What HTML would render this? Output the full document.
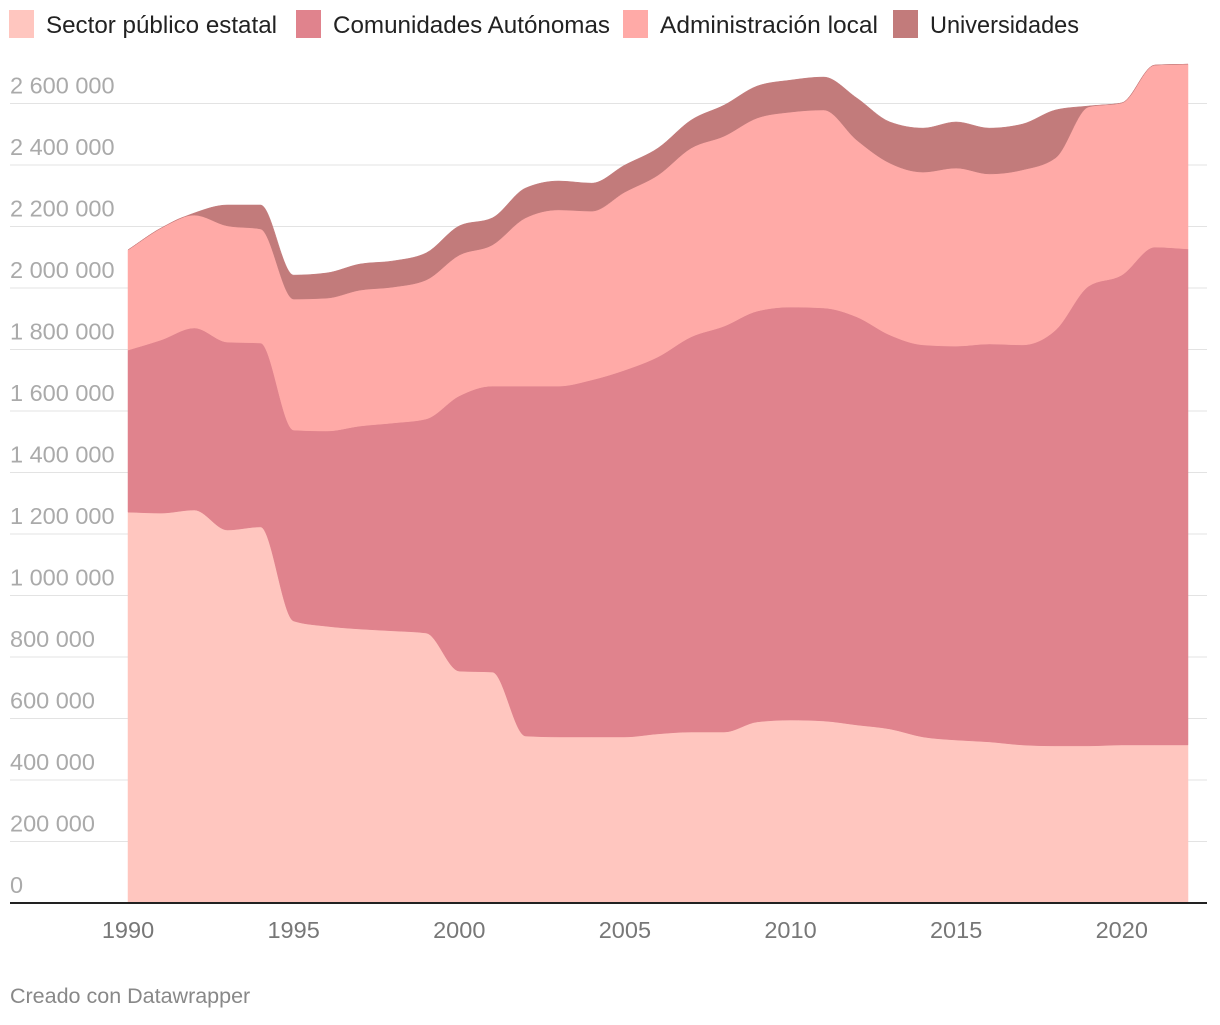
<!DOCTYPE html>
<html><head><meta charset="utf-8"><style>
body{margin:0;background:#fff;width:1220px;height:1020px;overflow:hidden;font-family:"Liberation Sans",sans-serif}
svg text{font-family:"Liberation Sans",sans-serif}
</style></head><body>
<svg id="chart" width="1220" height="1020" xmlns="http://www.w3.org/2000/svg"></svg>
<script>
const years=[1990,1991,1992,1993,1994,1995,1996,1997,1998,1999,2000,2001,2002,2003,2004,2005,2006,2007,2008,2009,2010,2011,2012,2013,2014,2015,2016,2017,2018,2019,2020,2021,2022];
const estatal=[1271,1268,1278,1213,1223,917,900,891,885,878,754,751,543,540,540,540,550,556,556,589,595,592,579,566,540,530,524,514,511,511,514,514,514];
const ccaa=[527,563,592,611,598,621,635,660,676,696,895,930,1138,1141,1161,1193,1226,1285,1320,1336,1343,1343,1327,1281,1275,1281,1294,1301,1352,1495,1528,1619,1613];
const local=[326,364,367,378,371,426,432,442,442,452,458,459,547,573,549,579,591,614,618,628,634,644,575,559,562,579,553,569,560,583,560,592,601];
const univ=[0,0,7,68,78,78,82,85,85,88,95,88,97,94,91,88,88,91,101,104,104,107,137,134,143,150,149,149,156,3,0,0,0];
const seriesNames=["Sector público estatal","Comunidades Autónomas","Administración local","Universidades"];
const colors=["#ffc6bf","#e0838d","#ffaaa7","#c27b7b"];
const yTicks=[0,200000,400000,600000,800000,1000000,1200000,1400000,1600000,1800000,2000000,2200000,2400000,2600000];
const xTicks=[1990,1995,2000,2005,2010,2015,2020];
const NS="http://www.w3.org/2000/svg";
const svg=document.getElementById('chart');
const X=y=>128+(y-1990)*(1060/32);
const Y=v=>903-v/200000*61.5;
function mk(tag,attrs,parent){const e=document.createElementNS(NS,tag);for(const k in attrs)e.setAttribute(k,attrs[k]);(parent||svg).appendChild(e);return e;}
function fmt(n){return n.toString().replace(/\B(?=(\d{3})+(?!\d))/g,' ');}
yTicks.forEach(t=>{
 if(t>0){const g=mk('line',{x1:10,x2:1207,y1:Y(t),y2:Y(t),stroke:'#e3e3e3','stroke-width':1});
 
 }
 const tx=mk('text',{x:10,y:Y(t)-10,fill:'#aaa','font-size':23.5});
 
 
 tx.textContent=fmt(t);
});
function mono(pts){
 const n=pts.length;const d=[],m=[];
 for(let i=0;i<n-1;i++){d.push((pts[i+1][1]-pts[i][1])/(pts[i+1][0]-pts[i][0]));}
 for(let i=0;i<n;i++){
  if(i==0)m.push(d[0]);else if(i==n-1)m.push(d[n-2]);
  else{ if(d[i-1]*d[i]<=0)m.push(0);else{const h0=pts[i][0]-pts[i-1][0],h1=pts[i+1][0]-pts[i][0];const p=(d[i-1]*h1+d[i]*h0)/(h0+h1);m.push(Math.sign(d[i])*Math.min(Math.abs(p),2*Math.abs(d[i-1]),2*Math.abs(d[i])));}}
 }
 let s='';
 for(let i=0;i<n-1;i++){const h=(pts[i+1][0]-pts[i][0])/3;
  s+=` C${pts[i][0]+h},${pts[i][1]+m[i]*h} ${pts[i+1][0]-h},${pts[i+1][1]-m[i+1]*h} ${pts[i+1][0]},${pts[i+1][1]}`;}
 return s;
}
const data=[estatal,ccaa,local,univ];
let base=years.map(()=>0);
data.forEach((ser,si)=>{
 const top=base.map((b,i)=>b+ser[i]*1000);
 const tp=years.map((y,i)=>[X(y),Y(top[i])]);
 const bp=years.map((y,i)=>[X(y),Y(base[i])]).reverse();
 const dStr=`M${tp[0][0]},${tp[0][1]}`+mono(tp)+` L${bp[0][0]},${bp[0][1]}`+mono(bp)+'Z';
 const p=mk('path',{d:dStr,fill:colors[si],stroke:colors[si],'stroke-width':0.5});
 
 
 base=top;
});
const ax=mk('line',{x1:10,x2:1207,y1:903,y2:903,stroke:'#222','stroke-width':2});


xTicks.forEach(t=>{
 const tx=mk('text',{x:X(t),y:938,fill:'#777','font-size':23.5,'text-anchor':'middle'});
 
 
 tx.textContent=t;
});
const legendX=[9,296,623,893];
const legendW=[231,277,218,149];
seriesNames.forEach((nm,i)=>{
 const lx=legendX[i];
 const r=mk('rect',{x:lx,y:10,width:25,height:28,fill:colors[i]});
 
 
 const t=mk('text',{x:lx+37,y:33,fill:'#222','font-size':24,textLength:legendW[i],lengthAdjust:'spacingAndGlyphs'});
 
 
 t.textContent=nm;
});
const f=mk('text',{x:10,y:1003,fill:'#888','font-size':21.5});


f.textContent='Creado con Datawrapper';
</script>
</body></html>
